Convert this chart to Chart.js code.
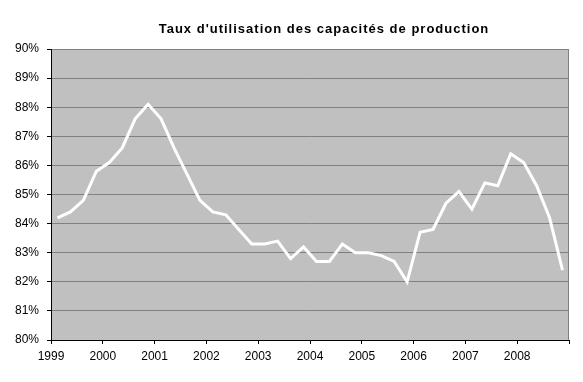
<!DOCTYPE html>
<html>
<head>
<meta charset="utf-8">
<script src="https://cdn.jsdelivr.net/npm/chart.js@4"></script>
<style>
  html, body { margin: 0; padding: 0; background: #fff; }
  #wrap { width: 583px; height: 382px; }
</style>
</head>
<body>
<div id="wrap"><canvas id="capacite"></canvas></div>
<script>
var titre = "Taux d'utilisation des capacités de production";
var annees = [1999, 2000, 2001, 2002, 2003, 2004, 2005, 2006, 2007, 2008];
// taux trimestriels, en %
var taux = [
    84.2, 84.4, 84.8, 85.8,
    86.1, 86.6, 87.6, 88.1,
    87.6, 86.6, 85.7, 84.8,
    84.4, 84.3, 83.8, 83.3,
    83.3, 83.4, 82.8, 83.2,
    82.7, 82.7, 83.3, 83.0,
    83.0, 82.9, 82.7, 82.0,
    83.7, 83.8, 84.7, 85.1,
    84.5, 85.4, 85.3, 86.4,
    86.1, 85.3, 84.2, 82.4
];

var points = taux.map(function (v, i) {
    return { x: annees[0] + (i + 0.5) / 4, y: v };
});

var fond = {
    id: "fond",
    beforeDraw: function (chart) {
        var a = chart.chartArea, ctx = chart.ctx;
        ctx.save();
        ctx.fillStyle = "#c0c0c0";
        ctx.fillRect(a.left, a.top, a.right - a.left, a.bottom - a.top);
        ctx.strokeStyle = "#808080";
        ctx.lineWidth = 1;
        ctx.beginPath();
        ctx.moveTo(a.left, a.top + 0.5);
        ctx.lineTo(a.right - 0.5, a.top + 0.5);
        ctx.lineTo(a.right - 0.5, a.bottom);
        ctx.stroke();
        ctx.restore();
    },
    afterDraw: function (chart) {
        var a = chart.chartArea, ctx = chart.ctx;
        ctx.save();
        ctx.font = "bold 13px Arial, 'Liberation Sans', sans-serif";
        ctx.letterSpacing = "1px";
        ctx.fillStyle = "#000";
        ctx.textAlign = "center";
        ctx.textBaseline = "alphabetic";
        ctx.fillText(titre, (a.left + a.right) / 2 + 14, 33);
        ctx.restore();
    }
};

var police = { family: "Arial, 'Liberation Sans', sans-serif", size: 12 };

new Chart(document.getElementById("capacite"), {
    type: "line",
    data: {
        datasets: [{
            data: points,
            borderColor: "#ffffff",
            borderWidth: 3,
            pointRadius: 0,
            tension: 0,
            fill: false
        }]
    },
    options: {
        responsive: true,
        maintainAspectRatio: false,
        animation: false,
        events: [],
        layout: { padding: { top: 49, right: 14, left: 0, bottom: 0 } },
        plugins: {
            legend: { display: false },
            tooltip: { enabled: false },
            title: { display: false }
        },
        scales: {
            x: {
                type: "linear",
                min: annees[0],
                max: annees[annees.length - 1] + 1,
                afterFit: function (s) { s.height = 42; },
                ticks: {
                    stepSize: 1,
                    color: "#000",
                    font: police,
                    padding: 5,
                    maxRotation: 0,
                    callback: function (v) {
                        return annees.indexOf(v) >= 0 ? String(v) : "";
                    }
                },
                grid: {
                    drawOnChartArea: false,
                    drawTicks: true,
                    tickLength: 4,
                    tickColor: "#000"
                },
                border: { color: "#000", width: 1 }
            },
            y: {
                min: 80,
                max: 90,
                afterFit: function (s) { s.width = 51; },
                ticks: {
                    stepSize: 1,
                    color: "#000",
                    font: police,
                    padding: 8,
                    callback: function (v) { return v + "%"; }
                },
                grid: {
                    color: "#808080",
                    tickColor: "#000",
                    tickLength: 4
                },
                border: { color: "#000", width: 1 }
            }
        }
    },
    plugins: [fond]
});
</script>
</body>
</html>
